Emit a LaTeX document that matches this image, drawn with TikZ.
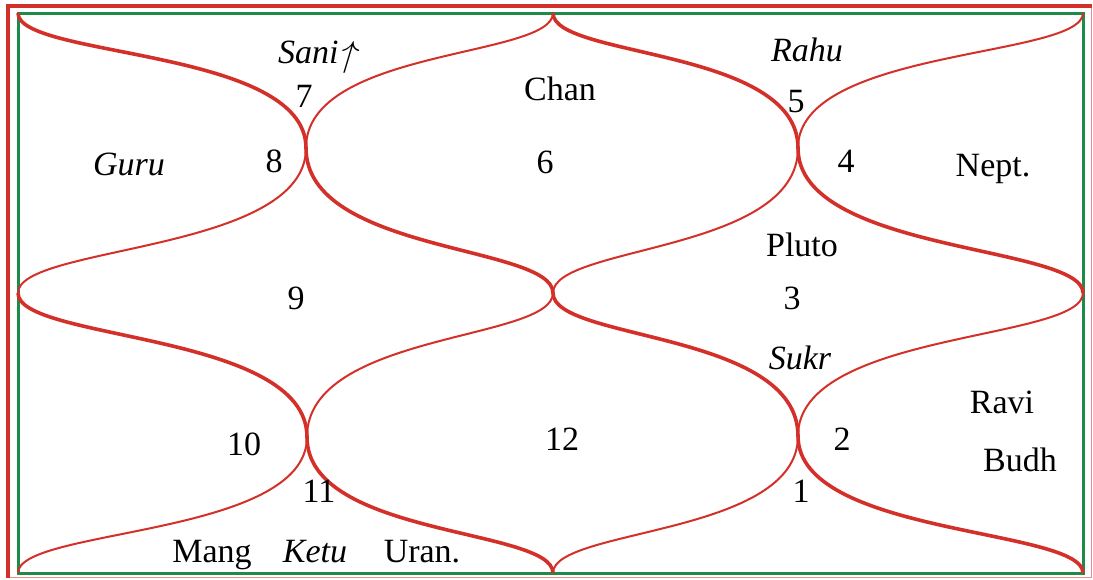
\documentclass[tikz,border=0pt]{standalone}
\usepackage{fontspec}
\setmainfont{Liberation Serif}
\definecolor{chartred}{RGB}{212,48,42}
\definecolor{chartgreen}{RGB}{30,140,70}
\begin{document}
\begin{tikzpicture}[x=1pt,y=-1pt,
  thickc/.style={draw=chartred,line width=3.6pt},
  thinc/.style={draw=chartred,line width=2pt},
  lab/.style={anchor=base,inner sep=0pt,font=\fontsize{34}{40}\selectfont},
  ilab/.style={anchor=base,inner sep=0pt,font=\fontsize{34}{40}\selectfont\itshape}]
\useasboundingbox (0,0) rectangle (1093,579);
\fill[white] (0,0) rectangle (1093,579);
% key points
\coordinate (TL) at (18,13);
\coordinate (T) at (553,13);
\coordinate (TR) at (1083,13);
\coordinate (L) at (18,293);
\coordinate (C) at (553,293);
\coordinate (R) at (1083,293);
\coordinate (BL) at (18,573);
\coordinate (B) at (553,573);
\coordinate (BR) at (1083,573);
\coordinate (Q1) at (306,148);
\coordinate (Q2) at (798,148);
\coordinate (Q3) at (307,437);
\coordinate (Q4) at (798,436);
\coordinate (oTL) at (7.5,5.5);
\coordinate (oBR) at (1091.5,577.5);
\coordinate (oBL) at (7.5,577.5);
\coordinate (oTR) at (1091.5,5.5);
% outer border
\draw[chartred!55,line width=1.2pt] (oTR) -- (oBR) -- (oBL);
\draw[chartred,line width=4pt] (oBL) -- (oTL) -- (oTR);
% inner green border
\draw[chartgreen,line width=3pt] (TL) rectangle (BR);
% thin curves
\draw[thinc] (TR) .. controls +(0,45) and +(0,-100) .. (Q2)
  .. controls +(0,105) and +(0,-48) .. (C)
  .. controls +(0,48) and +(0,-105) .. (Q3)
  .. controls +(0,100) and +(0,-45) .. (BL);
\draw[thinc] (T) .. controls +(0,45) and +(0,-100) .. (Q1)
  .. controls +(0,105) and +(0,-48) .. (L);
\draw[thinc] (R) .. controls +(0,48) and +(0,-105) .. (Q4)
  .. controls +(0,100) and +(0,-45) .. (B);
% thick curves
\draw[thickc] (TL) .. controls +(0,45) and +(0,-100) .. (Q1)
  .. controls +(0,105) and +(0,-48) .. (C)
  .. controls +(0,48) and +(0,-105) .. (Q4)
  .. controls +(0,100) and +(0,-45) .. (BR);
\draw[thickc] (T) .. controls +(0,45) and +(0,-100) .. (Q2)
  .. controls +(0,105) and +(0,-48) .. (R);
\draw[thickc] (L) .. controls +(0,48) and +(0,-105) .. (Q3)
  .. controls +(0,100) and +(0,-45) .. (B);
% labels
\node[ilab,anchor=base west] (sani) at (278,63) {Sani};
\node[anchor=base west,inner sep=0pt,xslant=0.3,scale=1.45,transform shape,font=\fontsize{34}{40}\selectfont] (saniarrow) at (337,66) {$\uparrow$};
\node[lab] (n7) at (304,107) {7};
\node[lab] (n8) at (274,172) {8};
\node[ilab] (guru) at (129,175) {Guru};
\node[lab] (chan) at (560,100) {Chan};
\node[lab] (n6) at (545,173) {6};
\node[ilab] (rahu) at (807,61) {Rahu};
\node[lab] (n5) at (796,112) {5};
\node[lab] (n4) at (846,172) {4};
\node[lab] (nept) at (993,176) {Nept.};
\node[lab] (pluto) at (802,256) {Pluto};
\node[lab] (n9) at (296,309) {9};
\node[lab] (n3) at (792,309) {3};
\node[ilab] (sukr) at (800,369) {Sukr};
\node[lab] (ravi) at (1002,413) {Ravi};
\node[lab] (n2) at (842,450) {2};
\node[lab] (budh) at (1020,471) {Budh};
\node[lab] (n1) at (801,502) {1};
\node[lab] (n10) at (244,455) {10};
\node[lab] (n11) at (319,502) {11};
\node[lab] (n12) at (562,450) {12};
\node[lab] (mang) at (212,562) {Mang};
\node[ilab] (ketu) at (315,562) {Ketu};
\node[lab] (uran) at (422,562) {Uran.};
\end{tikzpicture}
\end{document}
